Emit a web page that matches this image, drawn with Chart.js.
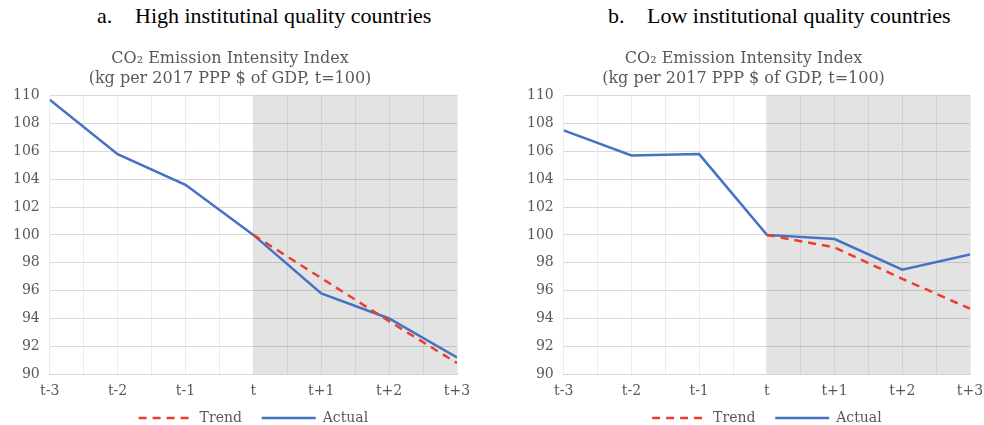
<!DOCTYPE html>
<html>
<head>
<meta charset="utf-8">
<script src="https://cdn.jsdelivr.net/npm/chart.js@4.4.0/dist/chart.umd.min.js"></script>
<style>
    body {margin: 0; background: #fff; width: 984px; height: 425px; overflow: hidden; position: relative;}
    .head {position: absolute; top: 3px; font-family: "Liberation Serif", serif; font-size: 22px; color: #000; white-space: pre;}
    .box {position: absolute; top: 0; height: 435px;}
</style>
</head>
<body>
<div class="head" style="left:97px">a.</div>
<div class="head" style="left:135px">High institutinal quality countries</div>
<div class="head" style="left:608px">b.</div>
<div class="head" style="left:647px">Low institutional quality countries</div>
<div class="box" style="left:0;width:484px"><canvas id="high"></canvas></div>
<div class="box" style="left:512px;width:472px"><canvas id="low"></canvas></div>
<script>
    var periods = ["t-3", "t-2", "t-1", "t", "t+1", "t+2", "t+3"];
    var highActual = [109.7, 105.8, 103.6, 100, 95.8, 94.0, 91.2];
    var highTrend = [null, null, null, 100, 96.9, 93.8, 90.8];
    var lowActual = [107.5, 105.7, 105.8, 100, 99.7, 97.5, 98.6];
    var lowTrend = [null, null, null, 100, 99.1, 96.85, 94.7];
    var yTicks = [90, 92, 94, 96, 98, 100, 102, 104, 106, 108, 110];
    var shadeFrom = "t", shadeTo = "t+3";
    var chartTitle = ["CO\u2082 Emission Intensity Index", "(kg per 2017 PPP $ of GDP, t=100)"];

    var grey = "#595959";
    var serif = "'DejaVu Serif', serif";

    // grey band behind the forecast years, drawn over the grid
    var shadePlugin = {
        id: "shade",
        beforeDatasetsDraw: function (chart) {
            var x = chart.scales.x, a = chart.chartArea, ctx = chart.ctx;
            var x0 = x.getPixelForValue(periods.indexOf(shadeFrom));
            var x1 = x.getPixelForValue(periods.indexOf(shadeTo));
            ctx.save();
            ctx.fillStyle = "rgba(0,0,0,0.11)";
            ctx.fillRect(x0, a.top, x1 - x0, a.bottom - a.top);
            ctx.restore();
        }
    };

    function points(arr) {
        var out = [];
        arr.forEach(function (v, i) { if (v !== null) out.push({x: i, y: v}); });
        return out;
    }

    function legendItems(chart) {
        var items = Chart.defaults.plugins.legend.labels.generateLabels(chart);
        items.forEach(function (it, i) {
            var ds = chart.data.datasets[it.datasetIndex];
            it.lineDash = ds.borderDash || [];
            it.lineWidth = ds.borderWidth;
            if (i < items.length - 1) it.text = it.text + "    ";
        });
        return items;
    }

    function makeChart(id, actual, trend, padLeft, padRight) {
        return new Chart(document.getElementById(id), {
            type: "line",
            data: {
                datasets: [{
                    label: "Trend",
                    data: points(trend),
                    borderColor: "#EE3B2F",
                    backgroundColor: "#EE3B2F",
                    borderWidth: 2.5,
                    borderDash: [8, 6],
                    pointRadius: 0,
                    pointStyle: "line"
                }, {
                    label: "Actual",
                    data: points(actual),
                    borderColor: "#4472C4",
                    backgroundColor: "#4472C4",
                    borderWidth: 2.5,
                    pointRadius: 0,
                    pointStyle: "line"
                }]
            },
            options: {
                responsive: true,
                maintainAspectRatio: false,
                animation: false,
                layout: {padding: {left: padLeft, right: padRight, top: 0, bottom: 0}},
                plugins: {
                    title: {
                        display: true,
                        text: chartTitle,
                        color: grey,
                        font: {family: serif, size: 16, weight: "normal", lineHeight: 1.3},
                        padding: {top: 48, bottom: 6}
                    },
                    legend: {
                        position: "bottom",
                        fullSize: false,
                        labels: {
                            usePointStyle: true,
                            pointStyleWidth: 54,
                            boxHeight: 12,
                            color: grey,
                            font: {family: serif, size: 14},
                            padding: 2,
                            generateLabels: legendItems
                        }
                    },
                    tooltip: {enabled: false}
                },
                scales: {
                    x: {
                        type: "linear",
                        min: 0,
                        max: periods.length - 1,
                        grid: {color: "#ececec", drawTicks: false},
                        border: {color: "#d9d9d9"},
                        afterFit: function (s) { s.paddingLeft = 0; s.paddingRight = 0; },
                        ticks: {
                            stepSize: 0.5,
                            autoSkip: false,
                            maxRotation: 0,
                            padding: 9,
                            color: grey,
                            font: {family: serif, size: 14},
                            callback: function (v) { return Number.isInteger(v) ? periods[v] : ""; }
                        }
                    },
                    y: {
                        min: yTicks[0],
                        max: yTicks[yTicks.length - 1],
                        grid: {color: "#d9d9d9", drawTicks: false},
                        border: {display: false},
                        afterBuildTicks: function (s) { s.ticks = yTicks.map(function (v) { return {value: v}; }); },
                        ticks: {padding: 10, color: grey, font: {family: serif, size: 14}}
                    }
                }
            },
            plugins: [shadePlugin]
        });
    }

    makeChart("high", highActual, highTrend, 3, 27);
    makeChart("low", lowActual, lowTrend, 5, 14);
</script>
</body>
</html>
